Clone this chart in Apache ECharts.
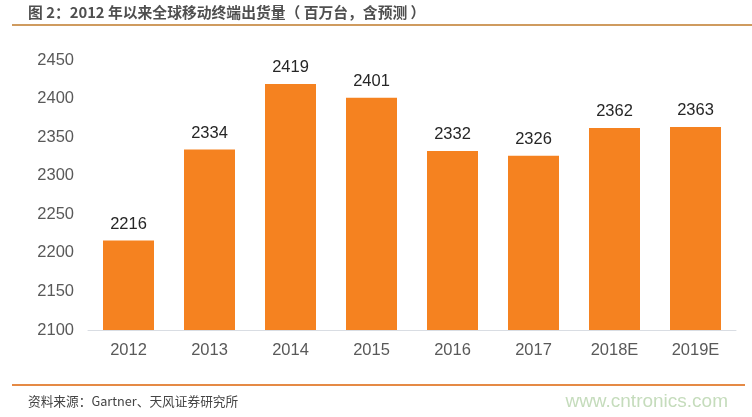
<!DOCTYPE html>
<html>
<head>
<meta charset="utf-8">
<style>
html, body { margin: 0; padding: 0; background: #fff; }
#chart { width: 752px; height: 417px; }
</style>
<script src="https://cdn.jsdelivr.net/npm/echarts@6/dist/echarts.min.js"></script>
</head>
<body>
<div id="chart"></div>
<script>
var categories = ['2012', '2013', '2014', '2015', '2016', '2017', '2018E', '2019E'];
var shipments = [2216, 2334, 2419, 2401, 2332, 2326, 2362, 2363];
var yTicks = [2100, 2450];

var cjk = '"Noto Sans CJK SC", sans-serif';
var latin = '"Liberation Sans", Arial, sans-serif';

var myChart = echarts.init(document.getElementById('chart'));
myChart.setOption({
    animation: false,
    backgroundColor: '#fff',
    title: [
        {
            text: '图 2：2012 年以来全球移动终端出货量（ 百万台，含预测 ）',
            left: 23, top: 0,
            textStyle: { fontSize: 14.8, fontWeight: 'bold', color: '#4f4f4f', fontFamily: cjk }
        },
        {
            text: '资料来源：Gartner、天风证券研究所',
            left: 23, top: 390,
            textStyle: { fontSize: 12.7, fontWeight: 'normal', color: '#444', fontFamily: cjk }
        },
        {
            text: 'www.cntronics.com',
            right: 19, top: 387,
            textStyle: { fontSize: 19, fontWeight: 'normal', color: '#c5dcbc', fontFamily: latin }
        }
    ],
    grid: { left: 88, right: 16, top: 60, bottom: 87 },
    xAxis: {
        type: 'category',
        data: categories,
        axisTick: { show: false },
        axisLine: { lineStyle: { color: '#d9dde3' } },
        axisLabel: { color: '#595959', fontSize: 16.5, margin: 12, fontFamily: latin }
    },
    yAxis: {
        type: 'value',
        min: yTicks[0],
        max: yTicks[1],
        interval: 50,
        splitLine: { show: false },
        axisLine: { show: false },
        axisTick: { show: false },
        axisLabel: {
            color: '#595959', fontSize: 16.5, margin: 14, fontFamily: latin,
            formatter: function (v) { return String(v); }
        }
    },
    series: [{
        type: 'bar',
        data: shipments,
        barWidth: 51,
        itemStyle: { color: '#f58220' },
        label: {
            show: true,
            position: 'top',
            distance: 8,
            color: '#262626',
            fontSize: 16.5,
            fontFamily: latin
        }
    }],
    graphic: [
        { type: 'line', shape: { x1: 12, y1: 25, x2: 752, y2: 25 }, style: { stroke: '#cf9b5f', lineWidth: 2 } },
        { type: 'line', shape: { x1: 12, y1: 385, x2: 745, y2: 385 }, style: { stroke: '#e58a45', lineWidth: 2 } }
    ]
});
</script>
</body>
</html>
